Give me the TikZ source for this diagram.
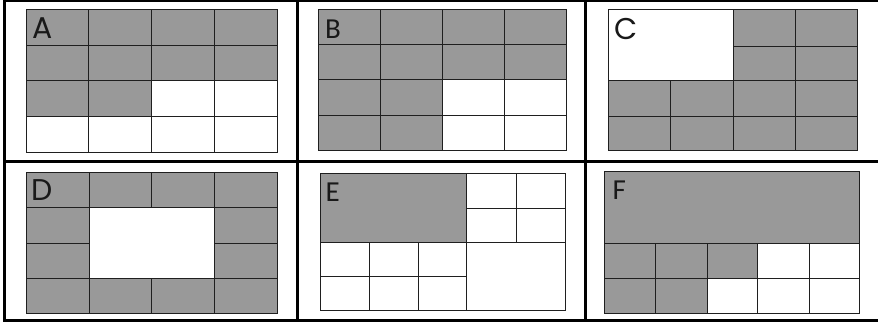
\documentclass[tikz,border=0pt]{standalone}
\usepackage{fontspec}
\newfontfamily\labgeo{Poppins}
\newfontfamily\labcal{Carlito}
\definecolor{cellgray}{HTML}{999999}
\tikzset{
  frameline/.style={line width=3pt, black},
  gridline/.style={line width=1pt, black!88},
  shade/.style={fill=cellgray},
  lab/.style={anchor=base west, inner sep=0pt, text=black!90},
  labg/.style={lab, font=\labgeo\fontsize{30}{30}\selectfont},
  labc/.style={lab, font=\labcal\fontsize{29}{29}\selectfont},
}
\begin{document}
\begin{tikzpicture}[x=1pt,y=-1pt]
\useasboundingbox (0,0) rectangle (878,324);
\fill[white] (0,0) rectangle (878,324);

% ---------- Panel A ----------
\fill[shade] (26,9.5) rectangle (277.6,80.7);
\fill[shade] (26,80.7) rectangle (151.8,116.3);
\foreach \x in {88.9,151.8,214.7} \draw[gridline] (\x,9.5) -- (\x,152);
\foreach \y in {45.1,80.7,116.3} \draw[gridline] (26,\y) -- (277.6,\y);
\draw[gridline] (26,9.5) rectangle (277.6,152);
\node[labg] (la) at (32,38.5) {A};

% ---------- Panel B ----------
\fill[shade] (318.5,9.5) rectangle (566.5,79.5);
\fill[shade] (318.5,79.5) rectangle (442.5,150.5);
\foreach \x in {380.5,442.5,504.5} \draw[gridline] (\x,9.5) -- (\x,150.5);
\foreach \y in {44.5,79.5,115} \draw[gridline] (318.5,\y) -- (566.5,\y);
\draw[gridline] (318.5,9.5) rectangle (566.5,150.5);
\node[labc] (lb) at (325,38.5) {B};

% ---------- Panel C ----------
\fill[shade] (608,9.5) rectangle (857.5,150.5);
\fill[white] (608,9.5) rectangle (733,80.7);
\draw[gridline] (795.3,9.5) -- (795.3,150.5);
\draw[gridline] (733,46) -- (857.5,46);
\draw[gridline] (608,80.7) -- (857.5,80.7);
\draw[gridline] (608,116) -- (857.5,116);
\draw[gridline] (670.5,80.7) -- (670.5,150.5);
\draw[gridline] (733,9.5) -- (733,150.5);
\draw[gridline] (608,9.5) rectangle (857.5,150.5);
\node[labg] (lc) at (614,39.5) {C};

% ---------- Panel D ----------
\fill[shade] (26,172) rectangle (277.7,313.5);
\fill[white] (89.3,207.7) rectangle (214.3,278.3);
\draw[gridline] (26,207.7) -- (277.7,207.7);
\draw[gridline] (26,278.3) -- (277.7,278.3);
\draw[gridline] (26,243.3) -- (89.3,243.3);
\draw[gridline] (214.3,243.3) -- (277.7,243.3);
\draw[gridline] (89.3,172) -- (89.3,313.5);
\draw[gridline] (214.3,172) -- (214.3,313.5);
\draw[gridline] (151.7,172) -- (151.7,207.7);
\draw[gridline] (151.7,278.3) -- (151.7,313.5);
\draw[gridline] (26,172) rectangle (277.7,313.5);
\node[labg] (ld) at (31,200.2) {D};

% ---------- Panel E ----------
\fill[shade] (320,173) rectangle (466.7,242.3);
\draw[gridline] (466.7,173) -- (466.7,310.5);
\draw[gridline] (320,242.3) -- (565,242.3);
\draw[gridline] (516,173) -- (516,242.3);
\draw[gridline] (466.7,208) -- (565,208);
\draw[gridline] (369,242.3) -- (369,310.5);
\draw[gridline] (418.3,242.3) -- (418.3,310.5);
\draw[gridline] (320,276.7) -- (466.7,276.7);
\draw[gridline] (320,173) rectangle (565,310.5);
\node[labc] (le) at (325.5,201.2) {E};

% ---------- Panel F ----------
\fill[shade] (604.7,171) rectangle (859.7,243.3);
\fill[shade] (604.7,243.3) rectangle (757.3,278.3);
\fill[shade] (604.7,278.3) rectangle (707.3,313.7);
\draw[gridline] (604.7,243.3) -- (859.7,243.3);
\draw[gridline] (604.7,278.3) -- (859.7,278.3);
\foreach \x in {655.7,707.3,757.3,809} \draw[gridline] (\x,243.3) -- (\x,313.7);
\draw[gridline] (604.7,171) rectangle (859.7,313.7);
\node[labc] (lf) at (612.5,199.5) {F};

% ---------- Frame ----------
\draw[frameline] (4.5,0.8) -- (878,0.8);
\draw[frameline] (4.5,320.8) -- (878,320.8);
\draw[frameline] (4.5,-1) -- (4.5,322.3);
\draw[frameline] (297.5,0) -- (297.5,322);
\draw[frameline] (585,0) -- (585,322);
\draw[frameline] (4.5,161.5) -- (878,161.5);
\end{tikzpicture}
\end{document}
